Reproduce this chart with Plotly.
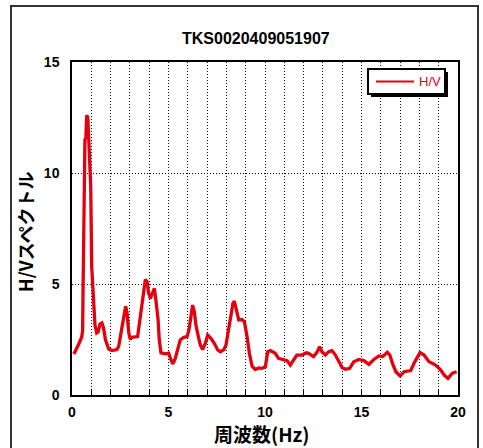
import plotly.graph_objects as go

# H/V spectral ratio, frequency (Hz) vs amplitude
freq = [0.10, 0.17, 0.35, 0.50, 0.55, 0.57, 0.60, 0.62, 0.67, 0.72, 0.76, 0.82,
        0.88, 0.97, 1.02, 1.10, 1.19, 1.28, 1.36, 1.45, 1.55, 1.64, 1.73, 1.90,
        2.07, 2.33, 2.42, 2.56, 2.68, 2.78, 2.85, 2.94, 3.02, 3.10, 3.40, 3.49,
        3.60, 3.68, 3.80, 3.89, 3.97, 4.06, 4.18, 4.27, 4.37, 4.46, 4.52, 4.61,
        4.84, 5.01, 5.13, 5.23, 5.35, 5.49, 5.61, 5.79, 5.96, 6.06, 6.17, 6.25,
        6.34, 6.42, 6.53, 6.65, 6.77, 6.91, 7.03, 7.20, 7.37, 7.55, 7.69, 7.86,
        7.98, 8.08, 8.20, 8.34, 8.41, 8.51, 8.64, 8.81, 8.93, 9.07, 9.19, 9.33,
        9.50, 9.67, 9.84, 10.02, 10.14, 10.28, 10.53, 10.70, 10.97, 11.14, 11.31,
        11.48, 11.65, 11.91, 12.14, 12.26, 12.52, 12.69, 12.83, 12.95, 13.13,
        13.30, 13.47, 13.65, 13.82, 14.00, 14.17, 14.39, 14.60, 14.86, 15.12,
        15.38, 15.64, 15.90, 16.09, 16.34, 16.47, 16.60, 16.78, 17.00, 17.21,
        17.55, 17.72, 17.90, 18.03, 18.24, 18.50, 18.84, 19.10, 19.28, 19.48,
        19.71, 19.93]
hv = [1.85, 2.0, 2.3, 2.6, 2.9, 4.5, 6.2, 9.2, 11.5, 11.6, 12.6, 12.5,
      11.5, 9.4, 5.8, 4.3, 3.15, 2.8, 2.85, 3.2, 3.25, 3.0, 2.5, 2.07,
      2.0, 2.05, 2.2, 2.9, 3.5, 4.0, 3.7, 2.8, 2.5, 2.6, 2.63, 3.2,
      4.0, 4.65, 5.2, 5.1, 4.6, 4.35, 4.65, 4.8, 4.1, 3.4, 2.5, 1.9,
      1.85, 1.88, 1.58, 1.4, 1.65, 2.18, 2.48, 2.6, 2.63, 2.93, 3.68, 4.05,
      3.75, 3.15, 2.7, 2.25, 2.05, 2.33, 2.7, 2.55, 2.33, 2.03, 1.95, 2.03,
      2.25, 2.78, 3.53, 4.13, 4.23, 3.9, 3.38, 3.4, 3.3, 2.63, 1.88, 1.3,
      1.15, 1.22, 1.2, 1.28, 1.95, 2.0, 1.88, 1.65, 1.58, 1.55, 1.35,
      1.6, 1.8, 1.8, 1.9, 1.88, 1.73, 1.92, 2.18, 1.95, 1.8,
      1.95, 2.0, 1.8, 1.5, 1.23, 1.16, 1.2, 1.5, 1.6, 1.55,
      1.38, 1.6, 1.76, 1.73, 1.92, 1.8, 1.43, 1.05, 0.86, 1.05,
      1.1, 1.43, 1.73, 1.91, 1.8, 1.5, 1.35, 1.13, 0.9, 0.75,
      0.98, 1.05]

title_text = "TKS0020409051907"
x_title = "周波数(Hz)"
y_title = "H/Vスペクトル"
series_name = "H/V"
x_ticks = [0, 5, 10, 15, 20]
y_ticks = [0, 5, 10, 15]

RED = "#e3000f"
LATIN = "Liberation Sans, Arial, sans-serif"
CJK = "Noto Sans CJK JP, Liberation Sans, sans-serif"
GRID_DASH = "1px,2px"

W, H = 483, 448
L, R, T, B = 72, 25, 62, 53
pw, ph = W - L - R, H - T - B


def px_x(x):
    return (x - L) / pw


def px_y(y):
    return (H - B - y) / ph


fig = go.Figure()
fig.add_trace(go.Scatter(x=freq, y=hv, mode="lines", name=series_name,
                         line=dict(color=RED, width=3.3), showlegend=False))

grid = dict(showgrid=True, gridcolor="#111", griddash=GRID_DASH, gridwidth=1)

fig.update_xaxes(range=[0, 20], tickvals=x_ticks, ticktext=[str(v) for v in x_ticks],
                 ticks="inside", ticklen=5, tickcolor="black",
                 minor=dict(dtick=1, tick0=0, ticks="inside", ticklen=5, tickcolor="black",
                            showgrid=True, gridcolor="#111", griddash=GRID_DASH, gridwidth=1),
                 showline=True, linecolor="black", linewidth=1.5, mirror=True,
                 tickfont=dict(family=LATIN, size=14, color="black", weight="bold"),
                 ticklabelstandoff=3, zeroline=False, **grid)
fig.update_yaxes(range=[0, 15], tickvals=y_ticks, ticktext=[str(v) for v in y_ticks],
                 ticks="", showline=True, linecolor="black", linewidth=1.5, mirror=True,
                 tickfont=dict(family=LATIN, size=14, color="black", weight="bold"),
                 ticklabelstandoff=8, zeroline=False, **grid)

shapes = [
    # outer frame
    dict(type="rect", xref="paper", yref="paper",
         x0=px_x(11), x1=px_x(478), y0=px_y(470), y1=px_y(6),
         line=dict(color="#333", width=2), fillcolor="rgba(0,0,0,0)", layer="below"),
    # legend shadow and box
    dict(type="rect", xref="paper", yref="paper",
         x0=px_x(371), x1=px_x(448), y0=px_y(97), y1=px_y(72),
         line=dict(width=0), fillcolor="black"),
    dict(type="rect", xref="paper", yref="paper",
         x0=px_x(368), x1=px_x(445), y0=px_y(94), y1=px_y(69),
         line=dict(color="black", width=2), fillcolor="white"),
    dict(type="line", xref="paper", yref="paper",
         x0=px_x(376), x1=px_x(414), y0=px_y(81.5), y1=px_y(81.5),
         line=dict(color=RED, width=2)),
]

annotations = [
    dict(text=title_text, xref="paper", yref="paper", x=px_x(256), y=px_y(38),
         xanchor="center", yanchor="middle", showarrow=False,
         font=dict(family=LATIN, size=16, color="black", weight="bold")),
    dict(text=x_title, xref="paper", yref="paper", x=px_x(261), y=px_y(434),
         xanchor="center", yanchor="middle", showarrow=False,
         font=dict(family=CJK, size=19, color="black", weight="bold")),
    dict(text=y_title, xref="paper", yref="paper", x=px_x(25), y=px_y(232),
         xanchor="center", yanchor="middle", showarrow=False, textangle=-90,
         font=dict(family=CJK, size=18, color="black", weight="bold")),
    dict(text=series_name, xref="paper", yref="paper", x=px_x(417), y=px_y(81.5),
         xanchor="left", yanchor="middle", showarrow=False,
         font=dict(family=LATIN, size=13, color=RED)),
]

fig.update_layout(width=W, height=H, margin=dict(l=L, r=R, t=T, b=B),
                  paper_bgcolor="white", plot_bgcolor="white",
                  shapes=shapes, annotations=annotations, showlegend=False)

fig.write_html("out.html")
